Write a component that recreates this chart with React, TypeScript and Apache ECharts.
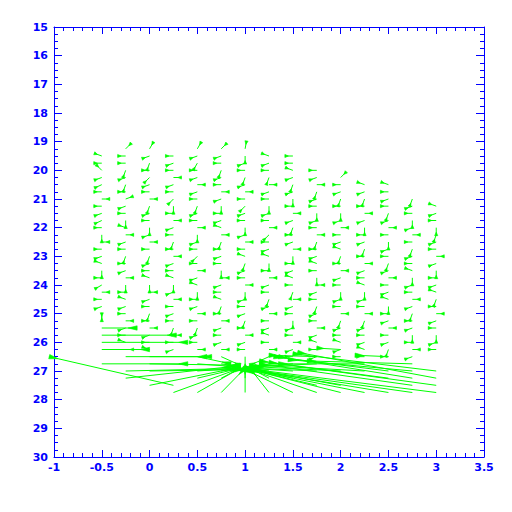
import { useEffect, useRef } from "react";
import * as echarts from "echarts";

// Grid columns (x) and the first row (y) of each column; rows are every 0.25
const COLUMNS = [-0.5, -0.25, 0, 0.25, 0.5, 0.75, 1.0, 1.25, 1.5, 1.75, 2.0, 2.25, 2.5, 2.75, 3.0];
const COLUMN_TOP = [19.5, 19.25, 19.25, 19.5, 19.25, 19.25, 19.25, 19.5, 19.5, 20.0, 20.25, 20.5, 20.5, 21.0, 21.25];
const ROW_STEP = 0.25;

// Direction (degrees, 0 = +x, 90 = up on the page) of each small vector, top to bottom
const ANGLES_C0 = [160, 180, 135, 200, 205, 180, 0, 180, 200, 205, 180, 270, 0, 180, 200, 160, 270, 180, 210, 0, 180, 200, 270, 90];
const ANGLES_C1 = [45, 180, 180, 250, 200, 250, 180, 20, 200, 180, 270, 160, 0, 200, 180, 250, 180, 200, 0, 270, 180, 160, 200, 180, 0, 200, 180, 160, 0];
const ANGLES_C2 = [60, 200, 250, 180, 225, 200, 180, 0, 250, 200, 180, 270, 200, 0, 180, 250, 200, 180, 160, 270, 0, 200, 180, 250, 180, 0, 200, 180, 160];
const ANGLES_C3 = [180, 200, 180, 0, 200, 180, 225, 270, 180, 0, 200, 180, 250, 180, 0, 200, 180, 160, 270, 200, 0, 180, 200, 180, 250, 0, 180, 200];
const ANGLES_C4 = [60, 200, 240, 180, 200, 0, 200, 180, 250, 200, 180, 0, 270, 200, 180, 225, 180, 0, 200, 160, 270, 180, 200, 0, 180, 250, 200, 180, 0];
const ANGLES_C5 = [45, 200, 180, 250, 200, 180, 0, 200, 270, 180, 200, 160, 0, 250, 180, 200, 180, 270, 0, 200, 180, 160, 250, 180, 0, 200, 180, 200, 0];
const ANGLES_C6 = [80, 270, 200, 180, 250, 200, 0, 180, 225, 200, 180, 270, 200, 0, 180, 160, 250, 200, 180, 0, 270, 200, 180, 200, 250, 180, 0, 200, 180];
const ANGLES_C7 = [160, 200, 180, 250, 0, 200, 180, 270, 200, 180, 0, 225, 180, 200, 160, 270, 180, 0, 200, 180, 250, 200, 0, 180, 200, 160, 180, 0];
const ANGLES_C8 = [180, 180, 160, 200, 250, 200, 270, 180, 0, 200, 250, 180, 200, 0, 270, 180, 200, 160, 180, 250, 0, 200, 180, 270, 200, 180, 0, 200, 180];
const ANGLES_C9 = [180, 200, 0, 250, 200, 180, 270, 200, 180, 0, 250, 180, 200, 160, 180, 270, 0, 200, 180, 250, 200, 180, 0, 200, 160, 180, 200];
const ANGLES_C10 = [45, 180, 200, 250, 180, 270, 200, 0, 180, 200, 160, 250, 180, 0, 200, 180, 270, 200, 180, 0, 250, 200, 180, 160, 200, 180];
const ANGLES_C11 = [160, 200, 250, 180, 0, 200, 270, 180, 200, 250, 180, 0, 200, 180, 160, 270, 200, 180, 0, 250, 200, 180, 200, 160, 180];
const ANGLES_C12 = [160, 180, 200, 180, 250, 200, 0, 180, 270, 200, 180, 250, 200, 0, 180, 200, 160, 270, 180, 200, 0, 180, 200, 250, 180];
const ANGLES_C13 = [250, 200, 180, 270, 200, 0, 180, 250, 200, 180, 160, 270, 200, 180, 0, 200, 250, 180, 200, 270, 180, 0, 200];
const ANGLES_C14 = [160, 200, 180, 270, 250, 200, 180, 0, 200, 270, 180, 200, 160, 250, 180, 0, 200, 180, 270, 200, 180];
const ANGLES = [ANGLES_C0, ANGLES_C1, ANGLES_C2, ANGLES_C3, ANGLES_C4, ANGLES_C5, ANGLES_C6, ANGLES_C7, ANGLES_C8, ANGLES_C9, ANGLES_C10, ANGLES_C11, ANGLES_C12, ANGLES_C13, ANGLES_C14];

// Large vectors near the convergence zone: [x, y, dx, dy] in data units
const LONG_VECTORS: number[][] = [
  [-0.5, 25.5, 0.37, 0],
  [-0.5, 25.75, 0.78, 0],
  [-0.5, 26.0, 0.9, 0],
  [-0.5, 26.25, 0.5, 0],
  [-0.25, 26.5, 0.9, 0],
  [-0.5, 26.75, 0.9, 0],
  [0.0, 26.5, 0.6, 0],
  [0.0, 26.75, 0.95, 0.05],
  [-0.25, 27.0, 1.3, -0.1],
  [0.0, 27.0, 1.0, -0.05],
  [-0.25, 27.25, 1.1, -0.4],
  [0.25, 27.5, -1.3, -1.0],
  [0.0, 27.5, 0.9, -0.6],
  [0.25, 27.75, 0.7, -0.85],
  [0.5, 27.75, 0.45, -0.85],
  [0.75, 27.75, 0.25, -0.85],
  [1.0, 27.75, 0, -0.9],
  [1.25, 27.75, -0.2, -0.85],
  [0.5, 26.5, 0.35, 0.25],
  [0.75, 26.5, 0.2, 0.3],
  [1.0, 26.5, 0.0, 0.35],
  [1.25, 26.5, -0.2, 0.3],
  [0.5, 26.75, 0.4, 0.1],
  [0.75, 26.75, 0.2, 0.1],
  [1.25, 26.75, -0.2, 0.1],
  [1.5, 26.75, -0.45, 0.1],
  [0.5, 27.0, 0.45, -0.1],
  [0.75, 27.0, 0.2, -0.1],
  [1.25, 27.0, -0.25, -0.1],
  [1.5, 27.0, -0.5, -0.1],
  [0.5, 27.25, 0.45, -0.35],
  [0.75, 27.25, 0.2, -0.35],
  [1.0, 27.25, 0, -0.35],
  [1.25, 27.25, -0.2, -0.35],
  [1.5, 27.25, -0.5, -0.35],
  [1.75, 26.5, -0.5, -0.05],
  [2.0, 26.25, -0.25, -0.05],
  [2.5, 26.5, -0.35, -0.05],
  [1.75, 26.75, -0.65, 0.1],
  [2.25, 26.75, -0.9, 0],
  [2.75, 26.75, -1.1, -0.1],
  [1.75, 27.0, -0.7, -0.1],
  [2.0, 27.0, -0.9, -0.15],
  [2.25, 27.0, -1.1, -0.2],
  [2.5, 27.0, -1.2, -0.5],
  [2.75, 27.0, -1.3, -0.4],
  [3.0, 27.0, -1.5, -0.6],
  [2.5, 27.25, -1.35, -0.6],
  [2.75, 27.25, -1.4, -0.75],
  [3.0, 27.25, -1.45, -0.9],
  [1.75, 27.5, -0.7, -0.55],
  [2.0, 27.5, -1.0, -0.6],
  [2.75, 27.5, -1.6, -0.75],
  [3.0, 27.5, -1.75, -0.8],
  [1.5, 27.75, -0.5, -0.8],
  [1.75, 27.75, -0.7, -0.8],
  [2.0, 27.75, -0.95, -0.8],
  [2.25, 27.75, -1.2, -0.8],
  [2.5, 27.75, -1.45, -0.8],
  [2.75, 27.75, -1.7, -0.8],
  [3.0, 27.75, -1.9, -0.8],
];

const GREEN = "#00ff00";
const BLUE = "#0000ff";

function arrowShapes(x0: number, y0: number, x1: number, y1: number, small: boolean) {
  const dx = x1 - x0;
  const dy = y1 - y0;
  const len = Math.sqrt(dx * dx + dy * dy) || 1;
  const ux = dx / len;
  const uy = dy / len;
  const head = small ? 3.5 : Math.max(3, Math.min(len * 0.3, 9));
  const half = small ? 1.6 : Math.max(1.5, Math.min(head * 0.3, 2.2));
  const bx = x1 - ux * head;
  const by = y1 - uy * head;
  return [
    {
      type: "line",
      shape: { x1: x0, y1: y0, x2: x1, y2: y1 },
      style: { stroke: GREEN, lineWidth: 1 },
    },
    {
      type: "polygon",
      shape: {
        points: [
          [bx, by],
          [x1 - uy * half, y1 + ux * half],
          [x1 + uy * half, y1 - ux * half],
        ],
      },
      style: { fill: GREEN, stroke: GREEN, lineWidth: 0.6 },
    },
  ];
}

export default function App() {
  const ref = useRef<HTMLDivElement>(null);

  useEffect(() => {
    if (!ref.current) return;
    const chart = echarts.init(ref.current, undefined, { renderer: "svg" });

    const smallData: number[][] = [];
    COLUMNS.forEach((cx, ci) => {
      ANGLES[ci].forEach((a, ri) => {
        smallData.push([cx, COLUMN_TOP[ci] + ri * ROW_STEP, a]);
      });
    });

    const axisLine = { show: true, onZero: false, lineStyle: { color: BLUE, width: 1 } };

    chart.setOption({
      animation: false,
      backgroundColor: "#ffffff",
      grid: { left: 54, top: 27, width: 430, height: 430, containLabel: false },
      xAxis: [
        {
          type: "value",
          min: -1,
          max: 3.5,
          interval: 0.5,
          position: "bottom",
          axisLine,
          splitLine: { show: false },
          axisTick: { show: true, inside: true, length: 7, lineStyle: { color: BLUE } },
          minorTick: { show: true, splitNumber: 5, length: 4, lineStyle: { color: BLUE } },
          axisLabel: {
            color: BLUE,
            fontSize: 11,
            fontWeight: "bold",
            fontFamily: "DejaVu Sans",
            margin: 5,
            formatter: (v: number) => String(v),
          },
        },
        {
          type: "value",
          min: -1,
          max: 3.5,
          interval: 0.5,
          position: "top",
          axisLine,
          splitLine: { show: false },
          axisTick: { show: true, inside: true, length: 7, lineStyle: { color: BLUE } },
          minorTick: { show: true, splitNumber: 5, length: 4, lineStyle: { color: BLUE } },
          axisLabel: { show: false },
        },
      ],
      yAxis: [
        {
          type: "value",
          min: 15,
          max: 30,
          interval: 1,
          inverse: true,
          position: "left",
          axisLine,
          splitLine: { show: false },
          axisTick: { show: true, inside: true, length: 8, lineStyle: { color: BLUE } },
          minorTick: { show: true, splitNumber: 4, length: 4, lineStyle: { color: BLUE } },
          axisLabel: {
            color: BLUE,
            fontSize: 11,
            fontWeight: "bold",
            fontFamily: "DejaVu Sans",
            margin: 6,
          },
        },
        {
          type: "value",
          min: 15,
          max: 30,
          interval: 1,
          inverse: true,
          position: "right",
          axisLine,
          splitLine: { show: false },
          axisTick: { show: true, inside: true, length: 8, lineStyle: { color: BLUE } },
          minorTick: { show: true, splitNumber: 4, length: 4, lineStyle: { color: BLUE } },
          axisLabel: { show: false },
        },
      ],
      series: [
        {
          type: "custom",
          name: "small",
          xAxisIndex: 0,
          yAxisIndex: 0,
          clip: false,
          data: smallData,
          encode: { x: 0, y: 1 },
          renderItem: (_params: any, api: any) => {
            const p = api.coord([api.value(0), api.value(1)]);
            const a = (api.value(2) * Math.PI) / 180;
            const L = 8;
            const x1 = p[0] + Math.cos(a) * L;
            const y1 = p[1] - Math.sin(a) * L;
            return { type: "group", children: arrowShapes(p[0], p[1], x1, y1, true) };
          },
        },
        {
          type: "custom",
          name: "long",
          xAxisIndex: 0,
          yAxisIndex: 0,
          clip: false,
          data: LONG_VECTORS,
          encode: { x: 0, y: 1 },
          renderItem: (_params: any, api: any) => {
            const x = api.value(0);
            const y = api.value(1);
            const p = api.coord([x, y]);
            const q = api.coord([x + api.value(2), y + api.value(3)]);
            return { type: "group", children: arrowShapes(p[0], p[1], q[0], q[1], false) };
          },
        },
      ],
    });

    return () => chart.dispose();
  }, []);

  return (
    <div
      ref={ref}
      style={{ position: "absolute", left: 0, top: 0, width: 512, height: 512, background: "#fff" }}
    />
  );
}
